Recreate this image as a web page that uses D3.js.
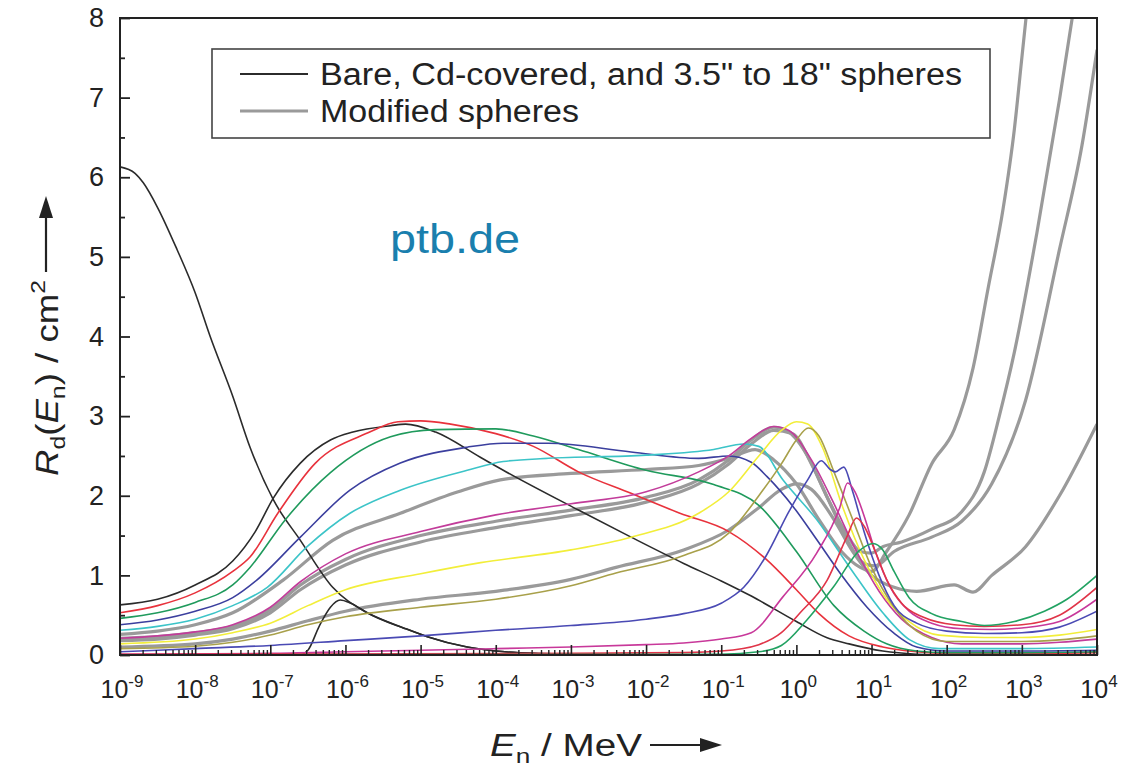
<!DOCTYPE html>
<html><head><meta charset="utf-8">
<script src="https://cdn.jsdelivr.net/npm/d3@7"></script>
<style>
body{margin:0;background:#fff;}
svg{font-family:"Liberation Sans",Arial,sans-serif;}
</style></head>
<body><svg id="chart" width="1127" height="769"></svg>
<script>
// ---- data: [log10(E/MeV), R_d / cm^2] ----
const xTickExponents = [-9,-8,-7,-6,-5,-4,-3,-2,-1,0,1,2,3,4];
const yTickValues = [0,1,2,3,4,5,6,7,8];
const legendLabels = ['Bare, Cd-covered, and 3.5" to 18" spheres', 'Modified spheres'];

const bare = [[-9,6.13],[-8.8,6.05],[-8.69,5.93],[-8.5,5.62],[-8.24,5.09],[-8,4.55],[-7.8,4.0],[-7.5,3.25],[-7.27,2.61],[-6.96,1.95],[-6.6,1.44],[-6.17,0.85],[-5.71,0.53],[-5.2,0.33],[-4.91,0.23],[-4.38,0.1],[-4,0.05],[-3.5,0.02],[-3,0.01],[-2,0],[4,0]];
const cdCovered = [[-9,0],[-6.62,0],[-6.5,0.06],[-6.35,0.36],[-6.2,0.6],[-6.07,0.69],[-5.93,0.65],[-5.71,0.53],[-5.2,0.33],[-4.91,0.23],[-4.38,0.1],[-4,0.05],[-3.5,0.02],[-3,0.01],[-2,0],[4,0]];
const s35 = [[-9,0.63],[-8.5,0.7],[-8,0.88],[-7.5,1.18],[-7.2,1.55],[-6.96,1.97],[-6.6,2.41],[-6.2,2.7],[-5.9,2.8],[-5.4,2.88],[-5.2,2.9],[-4.8,2.8],[-4.2,2.48],[-3.9,2.32],[-2.9,1.82],[-2.2,1.48],[-1.5,1.15],[-1.0,0.93],[-0.6,0.74],[0,0.42],[0.4,0.22],[0.7,0.14],[1.15,0.05],[1.6,0.01],[2,0],[4,0]];
const s40 = [[-9,0.53],[-8.5,0.62],[-8,0.78],[-7.5,1.05],[-7.27,1.23],[-6.9,1.78],[-6.4,2.41],[-5.7,2.79],[-5.3,2.93],[-5,2.94],[-4.6,2.9],[-4,2.78],[-3.5,2.62],[-2.9,2.3],[-2.2,2.03],[-1.55,1.78],[-0.9,1.55],[-0.4,1.2],[0,0.82],[0.3,0.52],[0.7,0.24],[1.15,0.1],[1.6,0.04],[2,0.02],[3,0.02],[4,0.03]];
const s45 = [[-9,0.46],[-8.5,0.53],[-8,0.66],[-7.5,0.88],[-7.27,1.1],[-6.8,1.7],[-6.2,2.29],[-5.4,2.74],[-4.8,2.83],[-4,2.84],[-3.5,2.75],[-2.9,2.58],[-2,2.32],[-1.1,2.14],[-0.5,1.88],[0,1.3],[0.5,0.62],[0.9,0.3],[1.2,0.14],[1.6,0.05],[2,0.03],[3,0.03],[4,0.04]];
const s50 = [[-9,0.38],[-8.5,0.44],[-8,0.55],[-7.5,0.72],[-7.18,0.94],[-6.6,1.48],[-5.94,2.07],[-5.27,2.41],[-4.38,2.61],[-3.9,2.66],[-3.3,2.66],[-2.2,2.55],[-1.3,2.47],[-0.9,2.5],[-0.6,2.42],[-0.39,2.24],[-0.04,1.86],[0.27,1.45],[0.58,1.03],[0.94,0.6],[1.29,0.28],[1.6,0.1],[2,0.05],[3,0.05],[4,0.06]];
const s60 = [[-9,0.31],[-8.5,0.36],[-8,0.45],[-7.5,0.62],[-7.04,0.85],[-6.51,1.36],[-5.94,1.78],[-5.27,2.07],[-4.38,2.32],[-3.9,2.43],[-3.3,2.47],[-2,2.51],[-1.1,2.58],[-0.7,2.65],[-0.5,2.62],[-0.18,2.2],[0.27,1.7],[0.71,1.1],[1.15,0.53],[1.51,0.19],[1.9,0.08],[3,0.08],[4,0.1]];
const s70 = [[-9,0.21],[-8.5,0.24],[-8,0.29],[-7.5,0.38],[-7,0.6],[-6.6,0.92],[-6,1.27],[-5,1.55],[-4,1.76],[-3,1.9],[-2,2.05],[-1.3,2.3],[-0.9,2.5],[-0.6,2.72],[-0.3,2.87],[-0.1,2.82],[0.2,2.45],[0.5,1.9],[0.8,1.3],[1.1,0.8],[1.4,0.45],[1.8,0.22],[2.2,0.14],[3,0.14],[3.5,0.16],[4,0.2]];
const s80 = [[-9,0.14],[-8,0.2],[-7.5,0.28],[-7,0.4],[-6.5,0.62],[-6,0.82],[-5,1.02],[-4.2,1.16],[-3,1.32],[-2.2,1.48],[-1.3,1.78],[-0.9,2.05],[-0.5,2.5],[-0.2,2.82],[0,2.93],[0.15,2.9],[0.35,2.6],[0.6,1.9],[0.9,1.2],[1.2,0.7],[1.5,0.42],[1.9,0.25],[2.5,0.22],[3,0.22],[3.5,0.25],[4,0.32]];
const s90 = [[-9,0.08],[-8,0.11],[-7.5,0.16],[-7,0.25],[-6.5,0.38],[-6,0.48],[-5,0.6],[-4,0.7],[-3,0.87],[-2.4,1.03],[-1.5,1.25],[-0.9,1.53],[-0.5,2.0],[-0.2,2.4],[0,2.7],[0.16,2.85],[0.3,2.75],[0.5,2.3],[0.75,1.7],[1.0,1.1],[1.3,0.6],[1.6,0.3],[2,0.17],[3,0.17],[3.5,0.19],[4,0.24]];
const s100 = [[-9,0.04],[-8,0.08],[-7,0.12],[-6,0.18],[-5,0.24],[-4,0.31],[-3,0.37],[-2,0.45],[-1.5,0.52],[-1,0.65],[-0.7,0.85],[-0.4,1.25],[-0.1,1.8],[0.15,2.2],[0.33,2.44],[0.45,2.33],[0.52,2.3],[0.63,2.36],[0.75,2.05],[0.9,1.55],[1.1,1.0],[1.3,0.62],[1.6,0.4],[2,0.3],[2.5,0.27],[3,0.28],[3.5,0.35],[4,0.55]];
const s120 = [[-9,0.01],[-7,0.02],[-6,0.04],[-5,0.06],[-4,0.08],[-3,0.1],[-2,0.13],[-1.5,0.15],[-1,0.2],[-0.6,0.28],[-0.18,0.73],[0.27,1.28],[0.58,1.86],[0.68,2.16],[0.78,2.05],[0.9,1.75],[1.05,1.3],[1.25,0.85],[1.5,0.55],[1.8,0.4],[2.2,0.33],[2.6,0.32],[3,0.34],[3.5,0.42],[4,0.7]];
const s150 = [[-9,0.01],[-3,0.02],[-1.5,0.03],[-1,0.05],[-0.5,0.13],[-0.2,0.28],[0.05,0.53],[0.41,0.94],[0.67,1.48],[0.8,1.72],[0.9,1.62],[1.05,1.3],[1.2,0.95],[1.4,0.65],[1.7,0.47],[2.1,0.38],[2.5,0.36],[3,0.38],[3.5,0.5],[4,0.85]];
const s180 = [[-9,0],[-1,0.01],[-0.5,0.04],[-0.2,0.12],[0.14,0.44],[0.49,0.85],[0.85,1.32],[1.02,1.4],[1.15,1.32],[1.3,1.05],[1.5,0.72],[1.8,0.52],[2.2,0.42],[2.5,0.37],[2.9,0.42],[3.3,0.55],[3.6,0.7],[4,1.0]];

const mod1 = [[-9,0.26],[-8.5,0.3],[-8,0.38],[-7.5,0.53],[-6.83,0.94],[-6.17,1.44],[-5.27,1.78],[-4.5,2.05],[-3.94,2.2],[-3,2.28],[-2,2.33],[-1.3,2.38],[-0.9,2.47],[-0.55,2.58],[-0.3,2.45],[0,2.15],[0.3,1.7],[0.6,1.3],[0.85,1.1],[1.0,1.05],[1.2,1.3],[1.5,1.76],[1.8,2.4],[2.1,2.83],[2.35,3.6],[2.55,4.6],[2.75,5.6],[2.9,6.6],[3.0,7.5],[3.1,8.4]];
const mod2 = [[-9,0.21],[-8.5,0.23],[-8,0.28],[-7.5,0.36],[-7,0.57],[-6.6,0.88],[-6,1.2],[-5,1.5],[-4,1.68],[-3,1.82],[-2,1.98],[-1.3,2.2],[-0.9,2.45],[-0.6,2.7],[-0.3,2.86],[-0.1,2.8],[0.15,2.5],[0.4,2.0],[0.65,1.55],[0.85,1.3],[1.0,1.28],[1.15,1.36],[1.4,1.42],[1.8,1.58],[2.2,1.8],[2.5,2.3],[2.7,3.0],[2.9,3.8],[3.2,5.3],[3.5,6.97],[3.72,8.3]];
const mod3 = [[-9,0.18],[-8.5,0.2],[-8,0.25],[-7.5,0.33],[-7,0.53],[-6.6,0.82],[-6,1.13],[-5,1.42],[-4,1.6],[-3,1.75],[-2,1.92],[-1.3,2.15],[-0.9,2.4],[-0.6,2.65],[-0.3,2.82],[-0.05,2.78],[0.2,2.4],[0.45,1.9],[0.7,1.4],[0.9,1.15],[1.05,1.12],[1.3,1.3],[1.8,1.48],[2.2,1.68],[2.6,2.15],[3.05,3.2],[3.5,5.09],[3.8,6.4],[4,7.6]];
const mod4 = [[-9,0.1],[-8,0.14],[-7.5,0.2],[-7,0.3],[-6.5,0.43],[-6,0.55],[-5,0.7],[-4,0.8],[-3,0.95],[-2.4,1.1],[-1.5,1.32],[-0.9,1.57],[-0.5,1.85],[-0.2,2.08],[0,2.15],[0.2,2.08],[0.5,1.7],[0.75,1.3],[1.0,1.0],[1.3,0.85],[1.6,0.8],[2.1,0.88],[2.35,0.79],[2.6,1.0],[3.05,1.36],[3.5,2.0],[4,2.9]];

const thinSeries = [
  {data: bare, color:"#2b2b2b"}, {data: cdCovered, color:"#2b2b2b"},
  {data: s35, color:"#2b2b2b"}, {data: s40, color:"#e8323c"},
  {data: s45, color:"#1f9a5c"}, {data: s50, color:"#3b3f9e"},
  {data: s60, color:"#3cc4c8"}, {data: s70, color:"#c23c9a"},
  {data: s80, color:"#f2ee3a"}, {data: s90, color:"#a8a04a"},
  {data: s100, color:"#4a4ab4"}, {data: s120, color:"#c8389a"},
  {data: s150, color:"#e03448"}, {data: s180, color:"#22a262"}
];
const modSeries = [mod1, mod2, mod3, mod4];

// ---- layout ----
const svg = d3.select("#chart");
const L = 120, R = 1097, T = 18, B = 655;
const x = d3.scaleLog().domain([1e-9, 1e4]).range([L, R]);
const y = d3.scaleLinear().domain([0, 8]).range([B, T]);

svg.append("defs").append("clipPath").attr("id","clip")
  .append("rect").attr("x",L).attr("y",T).attr("width",R-L).attr("height",B-T);

const line = d3.line()
  .x(d => x(Math.pow(10, d[0])))
  .y(d => y(d[1]))
  .curve(d3.curveMonotoneX);

const plot = svg.append("g").attr("clip-path","url(#clip)");

plot.selectAll("path.mod").data(modSeries).join("path")
  .attr("class","mod").attr("d", line)
  .attr("fill","none").attr("stroke","#9a9a9a").attr("stroke-width",3.2)
  .attr("stroke-linejoin","round");

plot.selectAll("path.thin").data(thinSeries).join("path")
  .attr("class","thin").attr("d", d => line(d.data))
  .attr("fill","none").attr("stroke", d => d.color).attr("stroke-width",1.6)
  .attr("stroke-linejoin","round");

// ---- axes ----
const yAxis = d3.axisLeft(y).tickValues(yTickValues).tickSize(-10).tickPadding(16).tickFormat(d3.format("d"));
const gy = svg.append("g").attr("transform",`translate(${L},0)`).call(yAxis);
gy.select(".domain").remove();
gy.selectAll("text").attr("font-size",27).attr("fill","#222").attr("font-family","Liberation Sans, Arial, sans-serif");
gy.selectAll("line").attr("stroke","#222").attr("stroke-width",1.8);
const yMinor = d3.range(0.5, 8, 1);
svg.append("g").attr("transform",`translate(${L},0)`)
  .call(d3.axisLeft(y).tickValues(yMinor).tickSize(-5).tickFormat(""))
  .call(g => { g.select(".domain").remove(); g.selectAll("line").attr("stroke","#222").attr("stroke-width",1.8); });

const decades = xTickExponents.map(e => Math.pow(10, e));
const gx = svg.append("g").attr("transform",`translate(0,${B})`)
  .call(d3.axisBottom(x).tickValues(decades).tickSize(-10).tickFormat(""));
gx.select(".domain").remove();
gx.selectAll("line").attr("stroke","#222").attr("stroke-width",1.6);
const xMinor = [];
xTickExponents.slice(0,-1).forEach(e => { for (let k = 2; k <= 9; k++) xMinor.push(k * Math.pow(10, e)); });
svg.append("g").attr("transform",`translate(0,${B})`)
  .call(d3.axisBottom(x).tickValues(xMinor).tickSize(-5).tickFormat(""))
  .call(g => { g.select(".domain").remove(); g.selectAll("line").attr("stroke","#222").attr("stroke-width",1.4); });

const xl = svg.append("g");
xTickExponents.forEach(e => {
  const t = xl.append("text").attr("x", x(Math.pow(10,e)) + 2).attr("y", 698)
    .attr("text-anchor","middle").attr("font-size",25).attr("fill","#222");
  t.append("tspan").text("10");
  t.append("tspan").attr("dy",-11).attr("font-size",17).text(e);
});

// frame
svg.append("rect").attr("x",L).attr("y",T).attr("width",R-L).attr("height",B-T)
  .attr("fill","none").attr("stroke","#222").attr("stroke-width",2);

// ---- axis titles ----
const xt = svg.append("text").attr("x",490).attr("y",756).attr("font-size",31).attr("fill","#222")
  .attr("textLength",152).attr("lengthAdjust","spacingAndGlyphs");
xt.append("tspan").attr("font-style","italic").text("E");
xt.append("tspan").attr("dy",7).attr("font-size",21).text("n");
xt.append("tspan").attr("dy",-7).text(" / MeV");
svg.append("line").attr("x1",650).attr("x2",706).attr("y1",745).attr("y2",745).attr("stroke","#222").attr("stroke-width",2.2);
svg.append("path").attr("d","M722,745 L700,738 L700,752 Z").attr("fill","#222");

const yt = svg.append("text").attr("transform","translate(58,476) rotate(-90)").attr("font-size",31).attr("fill","#222")
  .attr("textLength",196).attr("lengthAdjust","spacingAndGlyphs");
yt.append("tspan").attr("font-style","italic").text("R");
yt.append("tspan").attr("dy",7).attr("font-size",21).text("d");
yt.append("tspan").attr("dy",-7).text("(");
yt.append("tspan").attr("font-style","italic").text("E");
yt.append("tspan").attr("dy",7).attr("font-size",21).text("n");
yt.append("tspan").attr("dy",-7).text(") / cm");
yt.append("tspan").attr("dy",-13).attr("font-size",21).text("2");
svg.append("line").attr("x1",46).attr("x2",46).attr("y1",272).attr("y2",212).attr("stroke","#222").attr("stroke-width",2.2);
svg.append("path").attr("d","M46,196 L39,218 L53,218 Z").attr("fill","#222");

// ---- legend ----
svg.append("rect").attr("x",212).attr("y",49).attr("width",778).attr("height",89)
  .attr("fill","#fff").attr("stroke","#444").attr("stroke-width",1.6);
svg.append("line").attr("x1",240).attr("x2",308).attr("y1",74).attr("y2",74).attr("stroke","#2b2b2b").attr("stroke-width",1.8);
svg.append("line").attr("x1",240).attr("x2",308).attr("y1",111).attr("y2",111).attr("stroke","#9a9a9a").attr("stroke-width",3.2);
svg.append("text").attr("x",320).attr("y",85).attr("font-size",31).attr("fill","#222")
  .attr("textLength",642).attr("lengthAdjust","spacingAndGlyphs").text(legendLabels[0]);
svg.append("text").attr("x",320).attr("y",122).attr("font-size",31).attr("fill","#222")
  .attr("textLength",259).attr("lengthAdjust","spacingAndGlyphs").text(legendLabels[1]);

// watermark
svg.append("text").attr("x",390).attr("y",253).attr("font-size",40)
  .attr("textLength",130).attr("lengthAdjust","spacingAndGlyphs")
  .attr("fill","#1a7fae").text("ptb.de");
</script></body></html>
